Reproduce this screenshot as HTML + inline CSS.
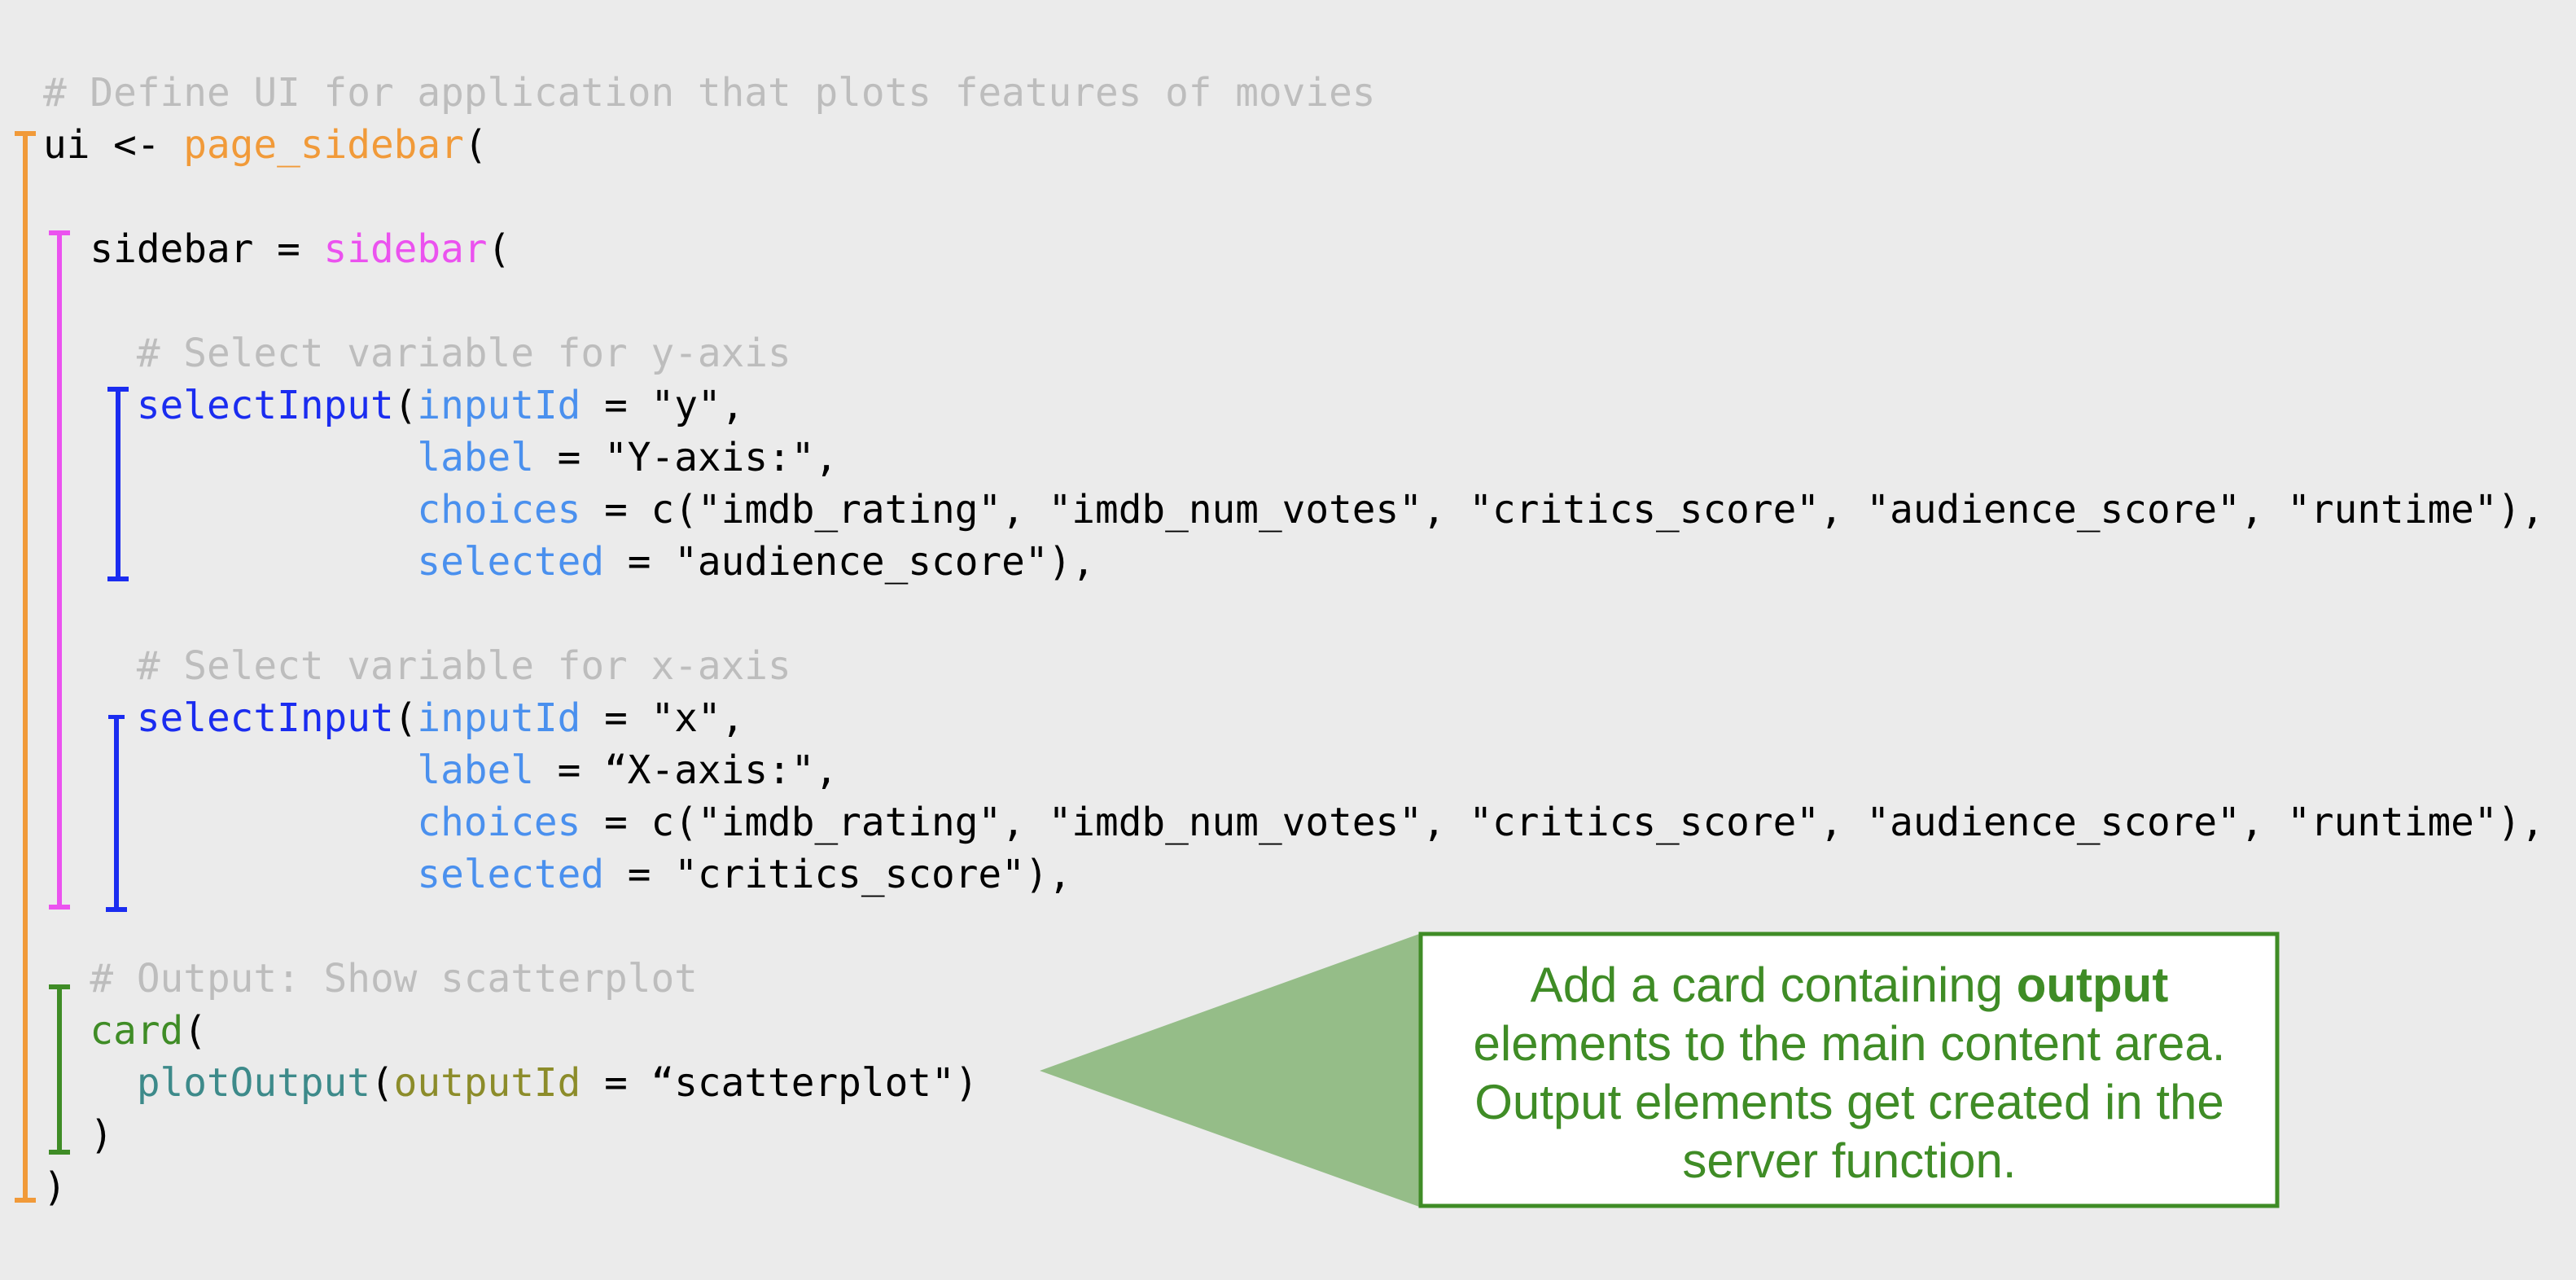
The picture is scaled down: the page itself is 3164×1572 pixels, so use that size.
<!DOCTYPE html>
<html><head><meta charset="utf-8"><style>
html,body{margin:0;padding:0}
body{width:3164px;height:1572px;background:#ebebeb;position:relative;overflow:hidden}
.l{position:absolute;left:53px;height:64px;line-height:64px;font-family:"DejaVu Sans Mono","Liberation Mono",monospace;font-size:47.7px;color:#000;white-space:pre}
.c{color:#bdbdbd}.o{color:#f19a39}.p{color:#eb52ef}.b{color:#1a2cf0}.lb{color:#4a90ee}.g{color:#3f8c26}.t{color:#3d8a8a}.ol{color:#8c8c2a}
.v{position:absolute;width:6px}.h{position:absolute;height:6px}
.txt{position:absolute;left:1744px;width:1055px;text-align:center;font-family:"Liberation Sans",Arial,sans-serif;font-size:60px;color:#3f8c26;line-height:71px}
</style></head><body>
<div class="l c" style="top:83px"># Define UI for application that plots features of movies</div>
<div class="l" style="top:147px">ui &lt;- <span class="o">page_sidebar</span>(</div>
<div class="l" style="top:275px">  sidebar = <span class="p">sidebar</span>(</div>
<div class="l c" style="top:403px">    # Select variable for y-axis</div>
<div class="l" style="top:467px">    <span class="b">selectInput</span>(<span class="lb">inputId</span> = "y",</div>
<div class="l" style="top:531px">                <span class="lb">label</span> = "Y-axis:",</div>
<div class="l" style="top:595px">                <span class="lb">choices</span> = c("imdb_rating", "imdb_num_votes", "critics_score", "audience_score", "runtime"),</div>
<div class="l" style="top:659px">                <span class="lb">selected</span> = "audience_score"),</div>
<div class="l c" style="top:787px">    # Select variable for x-axis</div>
<div class="l" style="top:851px">    <span class="b">selectInput</span>(<span class="lb">inputId</span> = "x",</div>
<div class="l" style="top:915px">                <span class="lb">label</span> = “X-axis:",</div>
<div class="l" style="top:979px">                <span class="lb">choices</span> = c("imdb_rating", "imdb_num_votes", "critics_score", "audience_score", "runtime"),</div>
<div class="l" style="top:1043px">                <span class="lb">selected</span> = "critics_score"),</div>
<div class="l c" style="top:1171px">  # Output: Show scatterplot</div>
<div class="l" style="top:1235px">  <span class="g">card</span>(</div>
<div class="l" style="top:1299px">    <span class="t">plotOutput</span>(<span class="ol">outputId</span> = “scatterplot")</div>
<div class="l" style="top:1363px">  )</div>
<div class="l" style="top:1427px">)</div>

<div class="v" style="left:28px;top:161px;height:1316px;background:#f19a39"></div>
<div class="h" style="left:18px;top:161px;width:26px;background:#f19a39"></div>
<div class="h" style="left:18px;top:1471px;width:26px;background:#f19a39"></div>
<div class="v" style="left:70px;top:283px;height:834px;background:#eb52ef"></div>
<div class="h" style="left:60px;top:283px;width:26px;background:#eb52ef"></div>
<div class="h" style="left:60px;top:1111px;width:26px;background:#eb52ef"></div>
<div class="v" style="left:142px;top:475px;height:239px;background:#1a2cf0"></div>
<div class="h" style="left:132px;top:475px;width:26px;background:#1a2cf0"></div>
<div class="h" style="left:132px;top:708px;width:26px;background:#1a2cf0"></div>
<div class="v" style="left:140px;top:878px;height:242px;background:#1a2cf0"></div>
<div class="h" style="left:133px;top:878px;width:20px;height:5px;background:#1a2cf0"></div>
<div class="h" style="left:130px;top:1114px;width:26px;background:#1a2cf0"></div>
<div class="v" style="left:70px;top:1211px;height:207px;background:#3f8c26"></div>
<div class="h" style="left:60px;top:1209px;width:26px;background:#3f8c26"></div>
<div class="h" style="left:60px;top:1412px;width:26px;background:#3f8c26"></div>

<svg style="position:absolute;left:0;top:0" width="3164" height="1572">
<polygon points="1277,1315 1746,1146 1746,1483" fill="#95bd88"/>
<rect x="1745" y="1147" width="1052" height="334" fill="#fff" stroke="#3f8c26" stroke-width="5"/>
</svg>
<div class="txt" style="top:1174px">Add a card containing <b>output</b></div>
<div class="txt" style="top:1246px">elements to the main content area.</div>
<div class="txt" style="top:1318px">Output elements get created in the</div>
<div class="txt" style="top:1390px">server function.</div>
</body></html>
